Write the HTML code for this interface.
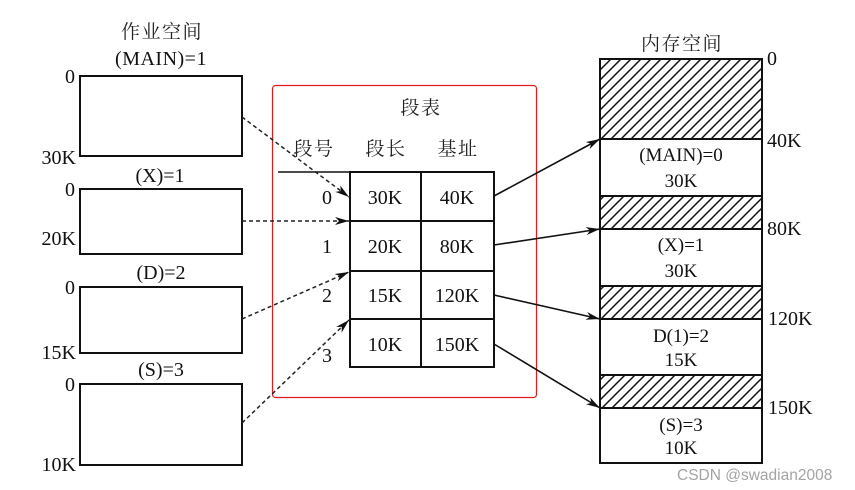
<!DOCTYPE html>
<html>
<head>
<meta charset="utf-8">
<style>
html,body{margin:0;padding:0;background:#fff;}
svg{display:block;}
.t{font-family:"Liberation Serif","Noto Serif CJK SC",serif;font-size:20px;fill:#111;}
.c{font-family:"Liberation Serif","Noto Serif CJK SC",serif;font-size:19px;fill:#222;letter-spacing:1.5px;}
.m{font-family:"Liberation Serif",serif;font-size:19px;fill:#111;}
.w{font-family:"Liberation Sans",sans-serif;font-size:15.5px;fill:#a3a3a3;}
</style>
</head>
<body>
<svg width="855" height="490" viewBox="0 0 855 490" xmlns="http://www.w3.org/2000/svg">
<defs>
<pattern id="h" patternUnits="userSpaceOnUse" width="10" height="10">
<path d="M-2,2 L2,-2 M0,10 L10,0 M8,12 L12,8" stroke="#111" stroke-width="1.5"/>
</pattern>
<marker id="a" markerUnits="userSpaceOnUse" markerWidth="16" markerHeight="10" refX="14" refY="4" orient="auto">
<path d="M0,0 L14,4 L0,8 L4,4 z" fill="#111"/>
</marker>
</defs>
<rect width="855" height="490" fill="#fff"/>

<!-- Left job space -->
<text class="c" x="162" y="38" text-anchor="middle">作业空间</text>
<text class="t" x="161" y="65" text-anchor="middle" letter-spacing="0.5">(MAIN)=1</text>
<rect x="80" y="76" width="162" height="80" fill="none" stroke="#111" stroke-width="2"/>
<text class="t" x="75" y="83" text-anchor="end">0</text>
<text class="t" x="76" y="164" text-anchor="end">30K</text>

<text class="t" x="160" y="182" text-anchor="middle">(X)=1</text>
<rect x="80" y="189" width="162" height="65" fill="none" stroke="#111" stroke-width="2"/>
<text class="t" x="75" y="196" text-anchor="end">0</text>
<text class="t" x="76" y="245" text-anchor="end">20K</text>

<text class="t" x="161" y="279" text-anchor="middle">(D)=2</text>
<rect x="80" y="287" width="162" height="66" fill="none" stroke="#111" stroke-width="2"/>
<text class="t" x="75" y="294" text-anchor="end">0</text>
<text class="t" x="76" y="359" text-anchor="end">15K</text>

<text class="t" x="161" y="376" text-anchor="middle">(S)=3</text>
<rect x="80" y="384" width="162" height="81" fill="none" stroke="#111" stroke-width="2"/>
<text class="t" x="75" y="391" text-anchor="end">0</text>
<text class="t" x="76" y="471" text-anchor="end">10K</text>

<!-- Red frame -->
<rect x="272.5" y="85.5" width="264" height="312" rx="3" fill="none" stroke="#e41a1a" stroke-width="1.2"/>

<!-- Segment table -->
<text class="c" x="421" y="114" text-anchor="middle">段表</text>
<text class="c" x="314" y="155" text-anchor="middle">段号</text>
<text class="c" x="386" y="155" text-anchor="middle">段长</text>
<text class="c" x="458" y="155" text-anchor="middle">基址</text>

<line x1="278" y1="172" x2="350" y2="172" stroke="#111" stroke-width="1.6"/>
<rect x="350" y="172" width="144" height="195" fill="none" stroke="#111" stroke-width="2"/>
<line x1="421" y1="172" x2="421" y2="367" stroke="#111" stroke-width="2"/>
<line x1="350" y1="221" x2="494" y2="221" stroke="#111" stroke-width="2"/>
<line x1="350" y1="271" x2="494" y2="271" stroke="#111" stroke-width="2"/>
<line x1="350" y1="319" x2="494" y2="319" stroke="#111" stroke-width="2"/>

<text class="t" x="327" y="204" text-anchor="middle">0</text>
<text class="t" x="327" y="253" text-anchor="middle">1</text>
<text class="t" x="327" y="302" text-anchor="middle">2</text>
<text class="t" x="327" y="362" text-anchor="middle">3</text>

<text class="t" x="385" y="204" text-anchor="middle">30K</text>
<text class="t" x="457" y="204" text-anchor="middle">40K</text>
<text class="t" x="385" y="253" text-anchor="middle">20K</text>
<text class="t" x="457" y="253" text-anchor="middle">80K</text>
<text class="t" x="385" y="302" text-anchor="middle">15K</text>
<text class="t" x="457" y="302" text-anchor="middle">120K</text>
<text class="t" x="385" y="351" text-anchor="middle">10K</text>
<text class="t" x="457" y="351" text-anchor="middle">150K</text>

<!-- Dashed arrows -->
<g stroke="#222" stroke-width="1.5" stroke-dasharray="4,3" fill="none">
<line x1="242" y1="117" x2="349" y2="197" marker-end="url(#a)"/>
<line x1="242" y1="221" x2="349" y2="221" marker-end="url(#a)"/>
<line x1="242" y1="319" x2="349" y2="272" marker-end="url(#a)"/>
<line x1="242" y1="423" x2="349" y2="320" marker-end="url(#a)"/>
</g>

<!-- Solid arrows -->
<g stroke="#111" stroke-width="1.6" fill="none">
<line x1="494" y1="196" x2="600" y2="139" marker-end="url(#a)"/>
<line x1="494" y1="245" x2="600" y2="229" marker-end="url(#a)"/>
<line x1="494" y1="295" x2="600" y2="319" marker-end="url(#a)"/>
<line x1="494" y1="344" x2="600" y2="408" marker-end="url(#a)"/>
</g>

<!-- Memory space -->
<text class="c" x="682" y="50" text-anchor="middle">内存空间</text>
<rect x="600" y="59" width="162" height="80" fill="url(#h)"/>
<rect x="600" y="196" width="162" height="33" fill="url(#h)"/>
<rect x="600" y="286" width="162" height="33" fill="url(#h)"/>
<rect x="600" y="375" width="162" height="33" fill="url(#h)"/>
<rect x="600" y="59" width="162" height="404" fill="none" stroke="#111" stroke-width="2"/>
<g stroke="#111" stroke-width="2">
<line x1="600" y1="139" x2="762" y2="139"/>
<line x1="600" y1="196" x2="762" y2="196"/>
<line x1="600" y1="229" x2="762" y2="229"/>
<line x1="600" y1="286" x2="762" y2="286"/>
<line x1="600" y1="319" x2="762" y2="319"/>
<line x1="600" y1="375" x2="762" y2="375"/>
<line x1="600" y1="408" x2="762" y2="408"/>
</g>

<text class="t" x="767" y="65">0</text>
<text class="t" x="767" y="147">40K</text>
<text class="t" x="767" y="235">80K</text>
<text class="t" x="768" y="325">120K</text>
<text class="t" x="768" y="414">150K</text>

<text class="m" x="681" y="161" text-anchor="middle">(MAIN)=0</text>
<text class="m" x="681" y="187" text-anchor="middle">30K</text>
<text class="m" x="681" y="251" text-anchor="middle">(X)=1</text>
<text class="m" x="681" y="277" text-anchor="middle">30K</text>
<text class="m" x="681" y="342" text-anchor="middle">D(1)=2</text>
<text class="m" x="681" y="366" text-anchor="middle">15K</text>
<text class="m" x="681" y="431" text-anchor="middle">(S)=3</text>
<text class="m" x="681" y="454" text-anchor="middle">10K</text>

<text class="w" x="677" y="480">CSDN @swadian2008</text>
</svg>
</body>
</html>
